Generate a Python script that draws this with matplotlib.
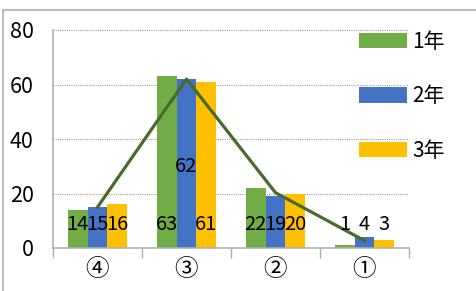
import matplotlib.pyplot as plt
from matplotlib.patches import Rectangle
import numpy as np

# data
categories = ["④", "③", "②", "①"]
year1 = [14, 63, 22, 1]
year2 = [15, 62, 19, 4]
year3 = [16, 61, 20, 3]
average = [15, 62, 20.3, 2.7]
series_names = ["1年", "2年", "3年"]
colors = ["#70AD47", "#4472C4", "#FFC000"]

plt.rcParams['font.family'] = ['Noto Sans CJK JP', 'DejaVu Sans']

fig = plt.figure(figsize=(4.76, 2.91), dpi=100)
ax = fig.add_axes([53/476, 1-248/291, (409-53)/476, (248-30)/291])

# chart frame
fig.patches.append(Rectangle((3/476, -0.1), 1.2, (1-10/291) + 0.1, transform=fig.transFigure,
                             fill=False, edgecolor="#b0b0b0", linewidth=1.2))

x = np.arange(len(categories))
w = 0.222
for i, (vals, name, c) in enumerate(zip([year1, year2, year3], series_names, colors)):
    ax.bar(x + (i - 1) * w, vals, width=w, color=c, label=name, zorder=2)
    for xi, v in zip(x, vals):
        ly = 30 if v == 62 else 8.8
        ax.text(xi + (i - 1) * w, ly, str(v), ha="center", va="center", fontsize=14.5,
                color="black", zorder=4)

ax.plot(x, average, color="#486b2b", linewidth=2.3, zorder=3)

ax.set_xlim(-0.5, 3.5)
ax.set_ylim(0, 80)
ax.set_yticks([0, 20, 40, 60, 80])
ax.tick_params(axis="y", length=0, labelsize=15.5, pad=14)
ax.set_xticks(np.arange(-0.5, 4, 1))
ax.set_xticklabels([])
ax.tick_params(axis="x", length=7, color="#b0b0b0", width=1)
for xi, c in zip(x, categories):
    ax.text(xi, -8, c, ha="center", va="center", fontsize=17, transform=ax.transData)

ax.yaxis.grid(True, linestyle=(0, (1, 1)), color="#a0a0a0", linewidth=0.8, zorder=0)
for s in ["top", "right"]:
    ax.spines[s].set_visible(False)
ax.spines["left"].set_color("#b0b0b0")
ax.spines["bottom"].set_color("#b0b0b0")
ax.spines["left"].set_linewidth(1.2)
ax.spines["bottom"].set_linewidth(1.2)

ax.legend(loc="upper left", bbox_to_anchor=(359/476, 1-31/291), bbox_transform=fig.transFigure,
          frameon=False, fontsize=15, handlelength=2.3, handleheight=0.75,
          labelspacing=1.55, handletextpad=0.25, borderpad=0, borderaxespad=0)

fig.savefig("out.png", dpi=100)
